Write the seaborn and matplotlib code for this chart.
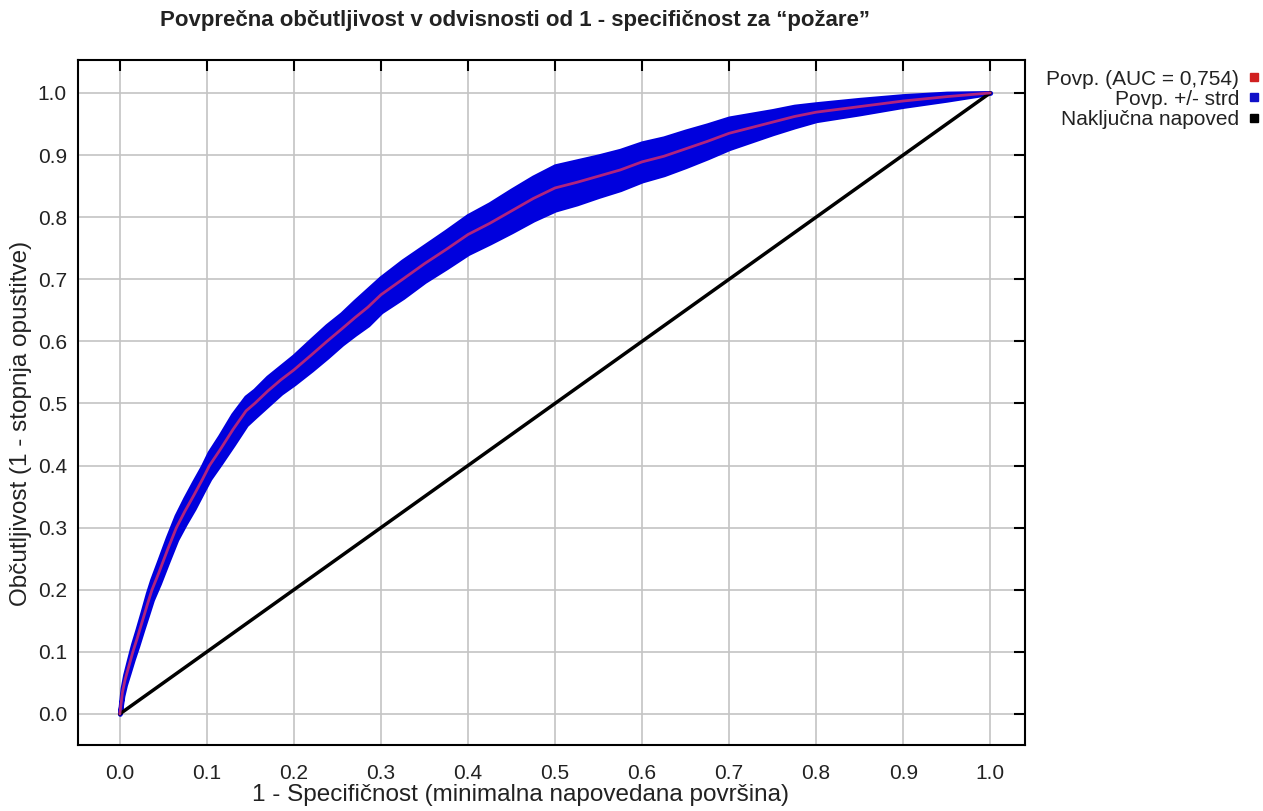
import numpy as np
import pandas as pd
import matplotlib
matplotlib.use("Agg")
import matplotlib.pyplot as plt
import seaborn as sns
from matplotlib.lines import Line2D

# ---- data ----
fpr = [0, 0.003, 0.006, 0.01, 0.015, 0.02, 0.026, 0.032, 0.037, 0.045,
       0.055, 0.065, 0.075, 0.085, 0.095, 0.103, 0.115, 0.13, 0.145, 0.155,
       0.17, 0.185, 0.2, 0.22, 0.238, 0.255, 0.27, 0.285, 0.3, 0.325,
       0.35, 0.375, 0.4, 0.425, 0.45, 0.475, 0.5, 0.525, 0.55, 0.575,
       0.6, 0.625, 0.65, 0.675, 0.7, 0.725, 0.75, 0.775, 0.8, 0.85,
       0.9, 0.95, 1.0]
tpr_mean = [0, 0.035, 0.055, 0.075, 0.10, 0.122, 0.15, 0.178, 0.20, 0.228,
            0.265, 0.30, 0.327, 0.352, 0.378, 0.40, 0.425, 0.458, 0.488, 0.50,
            0.52, 0.538, 0.554, 0.578, 0.60, 0.62, 0.638, 0.655, 0.675, 0.70,
            0.725, 0.748, 0.772, 0.79, 0.81, 0.83, 0.847, 0.856, 0.866, 0.876,
            0.889, 0.898, 0.91, 0.922, 0.935, 0.944, 0.953, 0.962, 0.969, 0.978,
            0.987, 0.994, 1.0]
tpr_std = [0, 0.006, 0.008, 0.01, 0.012, 0.013, 0.014, 0.016, 0.016, 0.018,
           0.019, 0.019, 0.02, 0.021, 0.02, 0.021, 0.022, 0.024, 0.022, 0.021,
           0.022, 0.021, 0.022, 0.024, 0.025, 0.024, 0.026, 0.028, 0.027, 0.029,
           0.028, 0.029, 0.03, 0.031, 0.033, 0.034, 0.035, 0.034, 0.032, 0.031,
           0.03, 0.029, 0.028, 0.026, 0.024, 0.021, 0.018, 0.016, 0.013, 0.011,
           0.008, 0.005, 0]
diag = [0.0, 1.0]
x_ticks = [0.0, 0.1, 0.2, 0.3, 0.4, 0.5, 0.6, 0.7, 0.8, 0.9, 1.0]
y_ticks = [0.0, 0.1, 0.2, 0.3, 0.4, 0.5, 0.6, 0.7, 0.8, 0.9, 1.0]
legend_labels = ["Povp. (AUC = 0,754)", "Povp. +/- strd", "Naključna napoved"]
title = "Povprečna občutljivost v odvisnosti od 1 - specifičnost za \u201cpožare\u201d"
xlabel = "1 - Specifičnost (minimalna napovedana površina)"
ylabel = "Občutljivost (1 - stopnja opustitve)"

df = pd.DataFrame({"fpr": fpr, "mean": tpr_mean, "std": tpr_std})
df["lo"] = df["mean"] - df["std"]
df["hi"] = df["mean"] + df["std"]
df_diag = pd.DataFrame({"x": diag, "y": diag})

sns.set_theme(style="whitegrid")
plt.rcParams["font.family"] = ["Liberation Sans", "DejaVu Sans"]

fig = plt.figure(figsize=(12.63, 8.11), dpi=100)
ax = fig.add_axes([0.0618, 0.0814, 0.8116 - 0.0618, 0.926 - 0.0814])
ax.set_facecolor("white")

blue = "#0000dd"
ax.fill_between(df["fpr"], df["lo"], df["hi"], color=blue, linewidth=3.5,
                edgecolor=blue, zorder=3)
sns.lineplot(data=df_diag, x="x", y="y", ax=ax, color="black", linewidth=2.5,
             zorder=4)
sns.lineplot(data=df, x="fpr", y="mean", ax=ax, color="#b0247e", linewidth=2,
             zorder=5, sort=False)

ax.set_xlim(-0.048, 1.040)
ax.set_ylim(-0.05, 1.053)
ax.set_xticks(x_ticks)
ax.set_yticks(y_ticks)
ax.set_xticklabels([f"{t:.1f}" for t in x_ticks])
ax.set_yticklabels([f"{t:.1f}" for t in y_ticks])
ax.grid(True, color="#c4c4c4", linewidth=1.2)
ax.tick_params(direction="in", length=8, width=1.5, colors="black",
               labelsize=15, top=True, right=True, labelcolor="#222222", pad=8)
ax.tick_params(axis="x", pad=14)
for s in ax.spines.values():
    s.set_color("black")
    s.set_linewidth(1.5)
    s.set_visible(True)

ax.set_xlabel(xlabel, fontsize=17.5, color="#222222")
ax.xaxis.set_label_coords(0.467, -0.057, transform=ax.transAxes)
ax.set_ylabel(ylabel, fontsize=17.5, color="#222222")
ax.yaxis.set_label_coords(-0.0486, 0.47, transform=ax.transAxes)
fig.text(0.408, 0.975, title, ha="center", va="center", fontsize=16,
         fontweight="bold", color="#222222")

handles = [
    Line2D([], [], marker="s", linestyle="none", color="#d02020", markersize=6),
    Line2D([], [], marker="s", linestyle="none", color="#1010c8", markersize=6),
    Line2D([], [], marker="s", linestyle="none", color="black", markersize=6),
]
fig.legend(handles, legend_labels, loc="upper right", bbox_to_anchor=(1.009, 0.932),
           frameon=False, markerfirst=False, fontsize=15, handlelength=0.6,
           handletextpad=0.4, labelspacing=0.05, borderaxespad=0.3,
           labelcolor="#222222")

fig.savefig("out.png", dpi=100)
